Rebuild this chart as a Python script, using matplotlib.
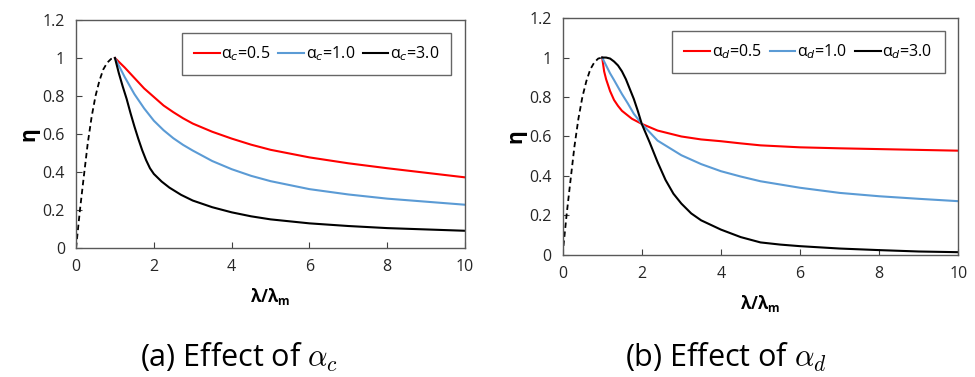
import matplotlib
matplotlib.use('Agg')
import matplotlib.pyplot as plt
from matplotlib.ticker import FuncFormatter

plt.rcParams['font.family'] = ['Open Sans', 'DejaVu Sans']
plt.rcParams['mathtext.fontset'] = 'dejavusans'

# rising dashed branch (same in both panels)
rise_x = [0, 0.05, 0.1, 0.19, 0.3, 0.4, 0.5, 0.6, 0.7, 0.8, 0.9, 1.0]
rise_y = [0, 0.10, 0.20, 0.36, 0.55, 0.69, 0.80, 0.88, 0.94, 0.975, 0.995, 1.0]

# panel (a): effect of alpha_c
a_red_x = [1, 1.25, 1.5, 1.75, 2, 2.25, 2.5, 2.75, 3, 3.5, 4, 4.5, 5, 6, 7, 8, 9, 10]
a_red = [1, 0.95, 0.895, 0.84, 0.795, 0.75, 0.715, 0.683, 0.655, 0.612, 0.576, 0.544, 0.517, 0.477, 0.446, 0.42,
         0.396, 0.372]
a_blue_x = [1, 1.25, 1.5, 1.75, 2, 2.25, 2.5, 2.75, 3, 3.5, 4, 4.5, 5, 6, 7, 8, 9, 10]
a_blue = [1, 0.9, 0.81, 0.735, 0.67, 0.62, 0.578, 0.543, 0.513, 0.458, 0.415, 0.38, 0.352, 0.31, 0.282, 0.26,
          0.244, 0.228]
a_black_x = [1, 1.1, 1.2, 1.3, 1.4, 1.5, 1.6, 1.7, 1.8, 1.9, 2, 2.2, 2.4, 2.7, 3, 3.5, 4, 4.5, 5, 6, 7, 8, 9, 10]
a_black = [1, 0.92, 0.85, 0.785, 0.71, 0.64, 0.575, 0.515, 0.463, 0.42, 0.39, 0.35, 0.318, 0.28, 0.25, 0.215, 0.188,
           0.167, 0.151, 0.13, 0.116, 0.105, 0.098, 0.091]

# panel (b): effect of alpha_d
b_red_x = [1, 1.05, 1.1, 1.15, 1.2, 1.3, 1.4, 1.5, 1.75, 2, 2.4, 3, 3.5, 4, 4.5, 5, 6, 7, 8, 9, 10]
b_red = [1, 0.93, 0.89, 0.86, 0.83, 0.785, 0.755, 0.73, 0.69, 0.664, 0.63, 0.6, 0.585, 0.576, 0.565, 0.555, 0.545,
         0.54, 0.536, 0.532, 0.528]
b_blue_x = [1, 1.1, 1.2, 1.3, 1.5, 1.65, 1.8, 2, 2.4, 3, 3.5, 4, 4.5, 5, 6, 7, 8, 9, 10]
b_blue = [1, 0.96, 0.92, 0.886, 0.815, 0.767, 0.715, 0.664, 0.579, 0.505, 0.46, 0.424, 0.397, 0.373, 0.34, 0.314,
          0.297, 0.284, 0.272]
b_black_x = [1, 1.1, 1.2, 1.3, 1.4, 1.5, 1.6, 1.7, 1.8, 1.9, 2, 2.2, 2.4, 2.6, 2.8, 3, 3.25, 3.5, 4, 4.5, 5, 5.5, 6,
             7, 8, 9, 10]
b_black = [1, 1.0, 0.995, 0.98, 0.96, 0.93, 0.89, 0.84, 0.79, 0.73, 0.664, 0.57, 0.47, 0.38, 0.31, 0.26, 0.21, 0.175,
           0.128, 0.09, 0.063, 0.052, 0.044, 0.032, 0.024, 0.017, 0.0135]

labels_a = [r'α$_c$=0.5', r'α$_c$=1.0', r'α$_c$=3.0']
labels_b = [r'α$_d$=0.5', r'α$_d$=1.0', r'α$_d$=3.0']
colors = ['#ff0000', '#5b9bd5', '#000000']

fig = plt.figure(figsize=(9.75, 3.77), dpi=100)
ax1 = fig.add_axes([0.078, 0.342, 0.399, 0.605])
ax2 = fig.add_axes([0.577, 0.324, 0.406, 0.628])


def fmt(v, pos):
    return ('%.1f' % v).rstrip('0').rstrip('.') if v != 0 else '0'


panels = [(ax1, [a_red_x, a_blue_x, a_black_x], [a_red, a_blue, a_black], labels_a),
          (ax2, [b_red_x, b_blue_x, b_black_x], [b_red, b_blue, b_black], labels_b)]
for ax, xs, ys, labels in panels:
    ax.plot(rise_x, rise_y, color='black', linestyle='--', lw=1.3, dashes=(3, 2))
    for x, y, c, lab in zip(xs, ys, colors, labels):
        ax.plot(x, y, color=c, lw=1.5, label=lab)
    ax.set_xlim(0, 10)
    ax.set_ylim(0, 1.2)
    ax.set_xticks([0, 2, 4, 6, 8, 10])
    ax.set_yticks([0, 0.2, 0.4, 0.6, 0.8, 1.0, 1.2])
    ax.yaxis.set_major_formatter(FuncFormatter(fmt))
    ax.tick_params(direction='in', labelsize=11.5, colors='#404040', length=4, pad=8)
    ax.tick_params(labelcolor='#262626')
    for s in ax.spines.values():
        s.set_color('#595959')
        s.set_linewidth(1.0)
    ax.set_xlabel(r'λ/λ$_\mathregular{m}$', fontsize=12, fontweight='bold', labelpad=8)
    ax.set_ylabel('η', fontsize=15, fontweight='bold', labelpad=2)
    leg = ax.legend(loc='upper right', ncol=3, fontsize=11.5, frameon=True, fancybox=False,
                    edgecolor='#404040', handlelength=1.6, handletextpad=0.1,
                    columnspacing=0.5, borderpad=0.75, bbox_to_anchor=(0.985, 0.98))
    leg.get_frame().set_linewidth(1.0)

fig.text(0.245, 0.053, r'(a) Effect of $\alpha_c$', ha='center', va='center', fontsize=22, math_fontfamily='cm')
fig.text(0.745, 0.053, r'(b) Effect of $\alpha_d$', ha='center', va='center', fontsize=22, math_fontfamily='cm')

plt.savefig('out.png', dpi=100)
